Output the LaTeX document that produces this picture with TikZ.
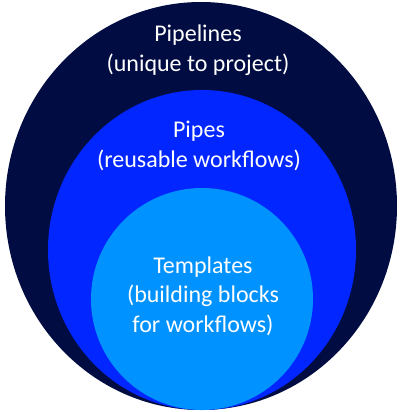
\documentclass[tikz,border=0pt]{standalone}
\usepackage{fontspec}
\setmainfont{Carlito}
\definecolor{navyc}{RGB}{1,12,66}
\definecolor{midc}{RGB}{2,38,255}
\definecolor{lightc}{RGB}{0,146,255}
\begin{document}
\begin{tikzpicture}[x=1pt,y=-1pt,
  lbl/.style={text=white,font=\fontsize{24}{29.3}\selectfont,align=center,inner sep=0pt,anchor=base}]
\useasboundingbox (0,0) rectangle (400,412);
\fill[navyc] (201,206) ellipse [x radius=196, y radius=204];
\fill[midc] (202,250) ellipse [x radius=154, y radius=160];
\fill[lightc] (202,299) ellipse [x radius=111, y radius=111];
\node[lbl] (pipelines) at (198,71) {Pipelines\\(unique to project)};
\node[lbl] (pipes) at (199,167) {Pipes\\(reusable workflows)};
\node[lbl] (templates) at (203,332) {Templates\\(building blocks\\for workflows)};
\end{tikzpicture}
\end{document}
